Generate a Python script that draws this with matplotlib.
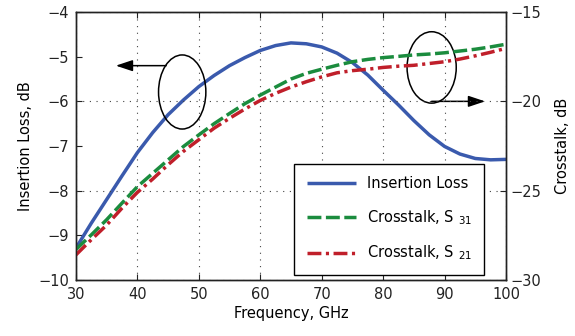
import numpy as np
import matplotlib
matplotlib.use('Agg')
import matplotlib.pyplot as plt
from matplotlib.patches import Ellipse

plt.rcParams['font.family'] = ['DejaVu Sans']
plt.rcParams['mathtext.default'] = 'regular'

# frequency points, GHz
freq = [30, 32.5, 35, 37.5, 40, 42.5, 45, 47.5, 50, 52.5, 55, 57.5, 60, 62.5,
        65, 67.5, 70, 72.5, 75, 77.5, 80, 82.5, 85, 87.5, 90, 92.5, 95, 97.5, 100]

# insertion loss, dB (left axis)
insertion_loss = [-9.29, -8.73, -8.2, -7.67, -7.15, -6.7, -6.3, -5.97, -5.67, -5.42,
                  -5.2, -5.02, -4.86, -4.75, -4.69, -4.71, -4.78, -4.92, -5.13, -5.41,
                  -5.75, -6.08, -6.43, -6.75, -7.01, -7.18, -7.28, -7.31, -7.3]

# crosstalk, dB (right axis)
crosstalk_s31 = [-28.3, -27.48, -26.63, -25.7, -24.78, -24.03, -23.28, -22.53, -21.88,
                 -21.25, -20.68, -20.13, -19.65, -19.2, -18.75, -18.43, -18.2, -17.98,
                 -17.78, -17.65, -17.55, -17.48, -17.4, -17.35, -17.28, -17.18, -17.08,
                 -16.95, -16.8]
crosstalk_s21 = [-28.6, -27.75, -26.93, -25.98, -25.1, -24.35, -23.55, -22.8, -22.15,
                 -21.5, -20.95, -20.43, -19.95, -19.55, -19.2, -18.9, -18.63, -18.4,
                 -18.28, -18.2, -18.1, -18.03, -17.98, -17.88, -17.78, -17.63, -17.45,
                 -17.25, -17.03]

x_ticks = [30, 40, 50, 60, 70, 80, 90, 100]
left_ticks = [-10, -9, -8, -7, -6, -5, -4]
right_ticks = [-30, -25, -20, -15]

blue = '#3a5aad'
green = '#1b8c3e'
red = '#c01f2a'

fig = plt.figure(figsize=(5.75, 3.36), dpi=100)
ax = fig.add_axes([0.132, 0.167, 0.748, 0.797])
ax2 = ax.twinx()

ln1, = ax.plot(freq, insertion_loss, color=blue, lw=2.5, solid_capstyle='butt')
ln2, = ax2.plot(freq, crosstalk_s31, color=green, lw=2.5, linestyle=(0, (4, 1.3)))
ln3, = ax2.plot(freq, crosstalk_s21, color=red, lw=2.5, linestyle=(0, (4, 1.3, 0.9, 1.3)))

ax.set_xlim(30, 100)
ax.set_ylim(-10, -4)
ax2.set_ylim(-30, -15)
ax.set_xticks(x_ticks)
ax.set_yticks(left_ticks)
ax2.set_yticks(right_ticks)

# grid: vertical from x, horizontal from right axis
ax.grid(True, axis='x', linestyle=(0, (1, 5)), color='#444444', lw=0.8)
ax2.grid(True, axis='y', linestyle=(0, (1, 5)), color='#444444', lw=0.8)

for a in (ax, ax2):
    a.tick_params(direction='in', length=4, width=0.8, labelsize=10.5, colors='#222222')
    for s in a.spines.values():
        s.set_color('#222222')
        s.set_linewidth(1.0)
ax.tick_params(top=True, pad=5)
ax2.tick_params(pad=3)

ax.set_xlabel('Frequency, GHz', fontsize=10.5, labelpad=3)
ax.set_ylabel('Insertion Loss, dB', fontsize=10.5, labelpad=4)
ax2.set_ylabel('Crosstalk, dB', fontsize=10.5, labelpad=10)

# ellipses with arrows pointing to the axes
arrow = dict(arrowstyle='-|>,head_length=0.6,head_width=0.2', color='black',
             lw=1.1, mutation_scale=17, shrinkA=0, shrinkB=0)
ax.add_patch(Ellipse((47.3, -5.79), 7.7, 1.66, fill=False, ec='black', lw=1.1, zorder=6))
ax.annotate('', xy=(36.5, -5.2), xytext=(44.7, -5.2), arrowprops=arrow, zorder=6)
ax.add_patch(Ellipse((87.9, -5.24), 8.0, 1.6, fill=False, ec='black', lw=1.1, zorder=6))
ax.annotate('', xy=(96.6, -6.0), xytext=(87.9, -6.0), arrowprops=arrow, zorder=6)

leg = ax2.legend([ln1, ln2, ln3],
                 ['Insertion Loss', 'Crosstalk, S $_{\\mathsf{31}}$', 'Crosstalk, S $_{\\mathsf{21}}$'],
                 loc='lower right', bbox_to_anchor=(0.966, -0.008), fontsize=10.5,
                 frameon=True, fancybox=False, edgecolor='black', framealpha=1,
                 handlelength=3.4, labelspacing=1.15, borderpad=0.85, handletextpad=0.7)
leg.get_frame().set_linewidth(1.0)

fig.savefig('out.png', dpi=100)
